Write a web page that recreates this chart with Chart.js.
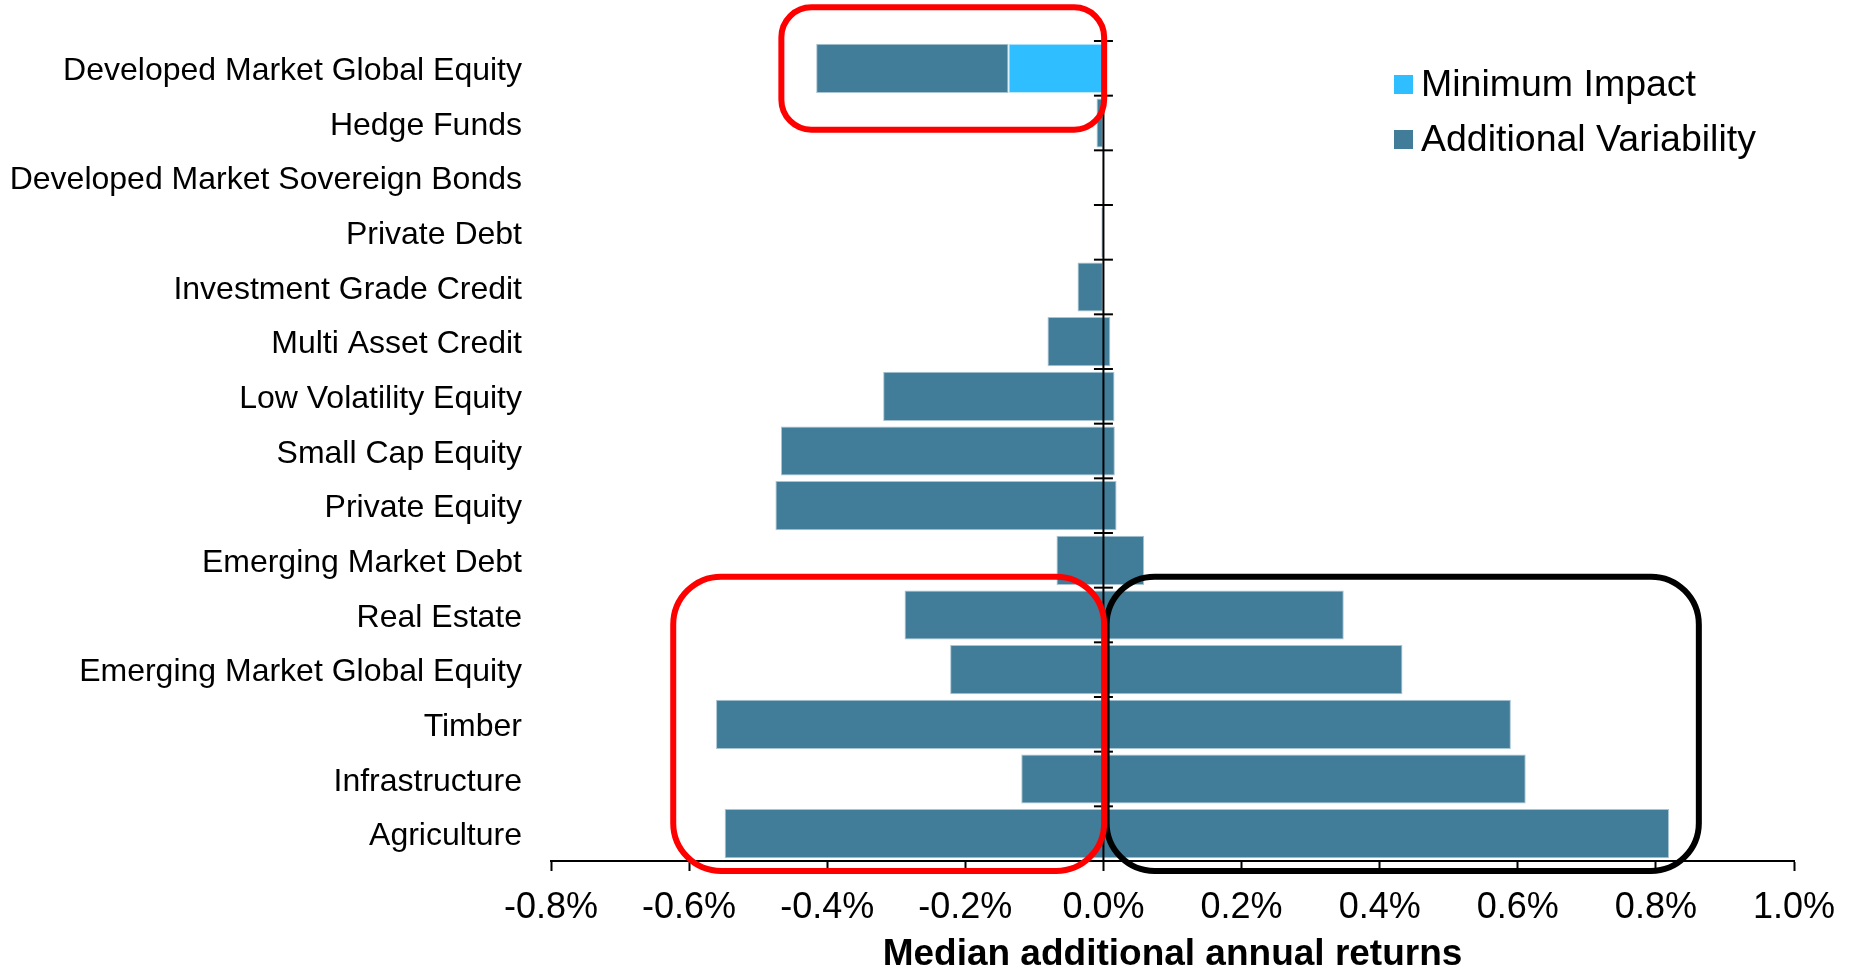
<!DOCTYPE html>
<html>
<head>
<meta charset="utf-8">
<script src="https://cdn.jsdelivr.net/npm/chart.js@4.4.1/dist/chart.umd.min.js"></script>
<style>
  html, body { margin: 0; padding: 0; background: #ffffff; }
  canvas { display: block; }
</style>
</head>
<body>
<canvas id="chart" width="1858" height="970"></canvas>
<script>
// Asset classes, top to bottom
const categories = [
  'Developed Market Global Equity',
  'Hedge Funds',
  'Developed Market Sovereign Bonds',
  'Private Debt',
  'Investment Grade Credit',
  'Multi Asset Credit',
  'Low Volatility Equity',
  'Small Cap Equity',
  'Private Equity',
  'Emerging Market Debt',
  'Real Estate',
  'Emerging Market Global Equity',
  'Timber',
  'Infrastructure',
  'Agriculture'
];

// Median additional annual returns (%), range of the "Additional Variability" bars
const variabilityLow  = [-0.416, -0.010, null, -0.003, -0.0375, -0.081, -0.319, -0.467, -0.475, -0.068, -0.288, -0.222, -0.561, -0.119, -0.5485];
const variabilityHigh = [-0.1375, 0, null, 0, 0, 0.010, 0.016, 0.0165, 0.019, 0.059, 0.348, 0.433, 0.590, 0.6115, 0.819];

// "Minimum Impact" segment (only Developed Market Global Equity)
const minimumLow  = [-0.1375, null, null, null, null, null, null, null, null, null, null, null, null, null, null];
const minimumHigh = [0, null, null, null, null, null, null, null, null, null, null, null, null, null, null];

// Value axis ticks (%)
const axisMin = -0.8;
const axisMax = 1.0;
const axisStep = 0.2;

// Highlight frames, in axis units (x in %, y in category index)
const highlights = [
  { x0: 0.0046, x1: 0.8622, y0: 9.299, y1: 14.682, color: '#000000', radius: 48 },
  { x0: -0.4664, x1: 0.001, y0: -1.116, y1: 1.122, color: '#FF0000', radius: 30 },
  { x0: -0.623, x1: 0.001, y0: 9.299, y1: 14.682, color: '#FF0000', radius: 48 }
];

const DARK = '#417C99';
const LIGHT = '#2FBEFF';
const FONT = "'Liberation Sans', Arial, sans-serif";

function ranges(lo, hi) {
  return lo.map((v, i) => (v === null || hi[i] === null) ? null : [v, hi[i]]);
}

// Zero line with cross ticks at every category boundary
const zeroAxis = {
  id: 'zeroAxis',
  afterDatasetsDraw(chart) {
    const { ctx, chartArea, scales: { x, y } } = chart;
    const x0 = x.getPixelForValue(0);
    ctx.save();
    ctx.strokeStyle = '#000';
    ctx.lineWidth = 2;
    ctx.beginPath();
    ctx.moveTo(x0, chartArea.top);
    ctx.lineTo(x0, chartArea.bottom);
    ctx.stroke();
    for (let i = 0; i <= categories.length; i++) {
      const yy = y.getPixelForValue(i - 0.5);
      ctx.beginPath();
      ctx.moveTo(x0 - 9.5, yy);
      ctx.lineTo(x0 + 9.5, yy);
      ctx.stroke();
    }
    ctx.restore();
  }
};

// Rounded highlight frames
const frames = {
  id: 'frames',
  afterDraw(chart) {
    const { ctx, scales: { x, y } } = chart;
    ctx.save();
    ctx.lineWidth = 6;
    highlights.forEach(h => {
      const l = x.getPixelForValue(h.x0), r = x.getPixelForValue(h.x1);
      const t = y.getPixelForValue(h.y0), b = y.getPixelForValue(h.y1);
      ctx.strokeStyle = h.color;
      ctx.beginPath();
      ctx.roundRect(l, t, r - l, b - t, h.radius);
      ctx.stroke();
    });
    ctx.restore();
  }
};

// Legend inside the plot, upper right
const insideLegend = {
  id: 'insideLegend',
  afterDraw(chart, args, opts) {
    const { ctx } = chart;
    ctx.save();
    ctx.font = '37.5px ' + FONT;
    ctx.textBaseline = 'middle';
    ctx.textAlign = 'left';
    chart.data.datasets.forEach((ds, i) => {
      const yTop = opts.top + i * opts.rowGap;
      ctx.fillStyle = ds.backgroundColor;
      ctx.fillRect(opts.left, yTop, opts.box, opts.box);
      ctx.fillStyle = '#000';
      ctx.fillText(ds.label, opts.left + opts.box + 8, yTop + opts.box / 2 + 1);
    });
    ctx.restore();
  }
};

new Chart(document.getElementById('chart'), {
  type: 'bar',
  data: {
    labels: categories,
    datasets: [
      {
        label: 'Minimum Impact',
        data: ranges(minimumLow, minimumHigh),
        backgroundColor: LIGHT,
        borderColor: '#BFE9FF',
        borderWidth: 1,
        borderSkipped: false,
        grouped: false,
        barPercentage: 0.9,
        categoryPercentage: 1.0
      },
      {
        label: 'Additional Variability',
        data: ranges(variabilityLow, variabilityHigh),
        backgroundColor: DARK,
        borderColor: '#A9C5D3',
        borderWidth: 1,
        borderSkipped: false,
        grouped: false,
        barPercentage: 0.9,
        categoryPercentage: 1.0
      }
    ]
  },
  options: {
    indexAxis: 'y',
    responsive: false,
    animation: false,
    layout: { padding: { top: 41, right: 64, left: 0, bottom: 0 } },
    plugins: {
      legend: { display: false },
      tooltip: { enabled: false },
      insideLegend: { left: 1394, top: 75, box: 19, rowGap: 55 }
    },
    scales: {
      x: {
        type: 'linear',
        position: 'bottom',
        min: axisMin,
        max: axisMax,
        afterFit: s => { s.height = 109; },
        ticks: {
          stepSize: axisStep,
          autoSkip: false,
          maxRotation: 0,
          padding: 15,
          color: '#000',
          font: { family: FONT, size: 36 },
          callback: v => (Math.abs(v) < 1e-9 ? 0 : v).toFixed(1) + '%'
        },
        grid: {
          drawOnChartArea: false,
          drawTicks: true,
          tickLength: 10,
          tickColor: '#000',
          tickWidth: 2,
          color: '#000'
        },
        border: { display: true, color: '#000', width: 2 },
        title: {
          display: true,
          text: 'Median additional annual returns',
          color: '#000',
          font: { family: FONT, size: 37, weight: 'bold', lineHeight: 0.8 },
          padding: { top: 0, bottom: 0 }
        }
      },
      y: {
        type: 'category',
        position: 'left',
        afterFit: s => { s.width = 551; s.paddingTop = 0; s.paddingBottom = 0; },
        ticks: {
          padding: 29,
          labelOffset: 3,
          color: '#000',
          autoSkip: false,
          font: { family: FONT, size: 32 }
        },
        grid: { display: false, drawTicks: false },
        border: { display: false }
      }
    }
  },
  plugins: [zeroAxis, frames, insideLegend]
});
</script>
</body>
</html>
